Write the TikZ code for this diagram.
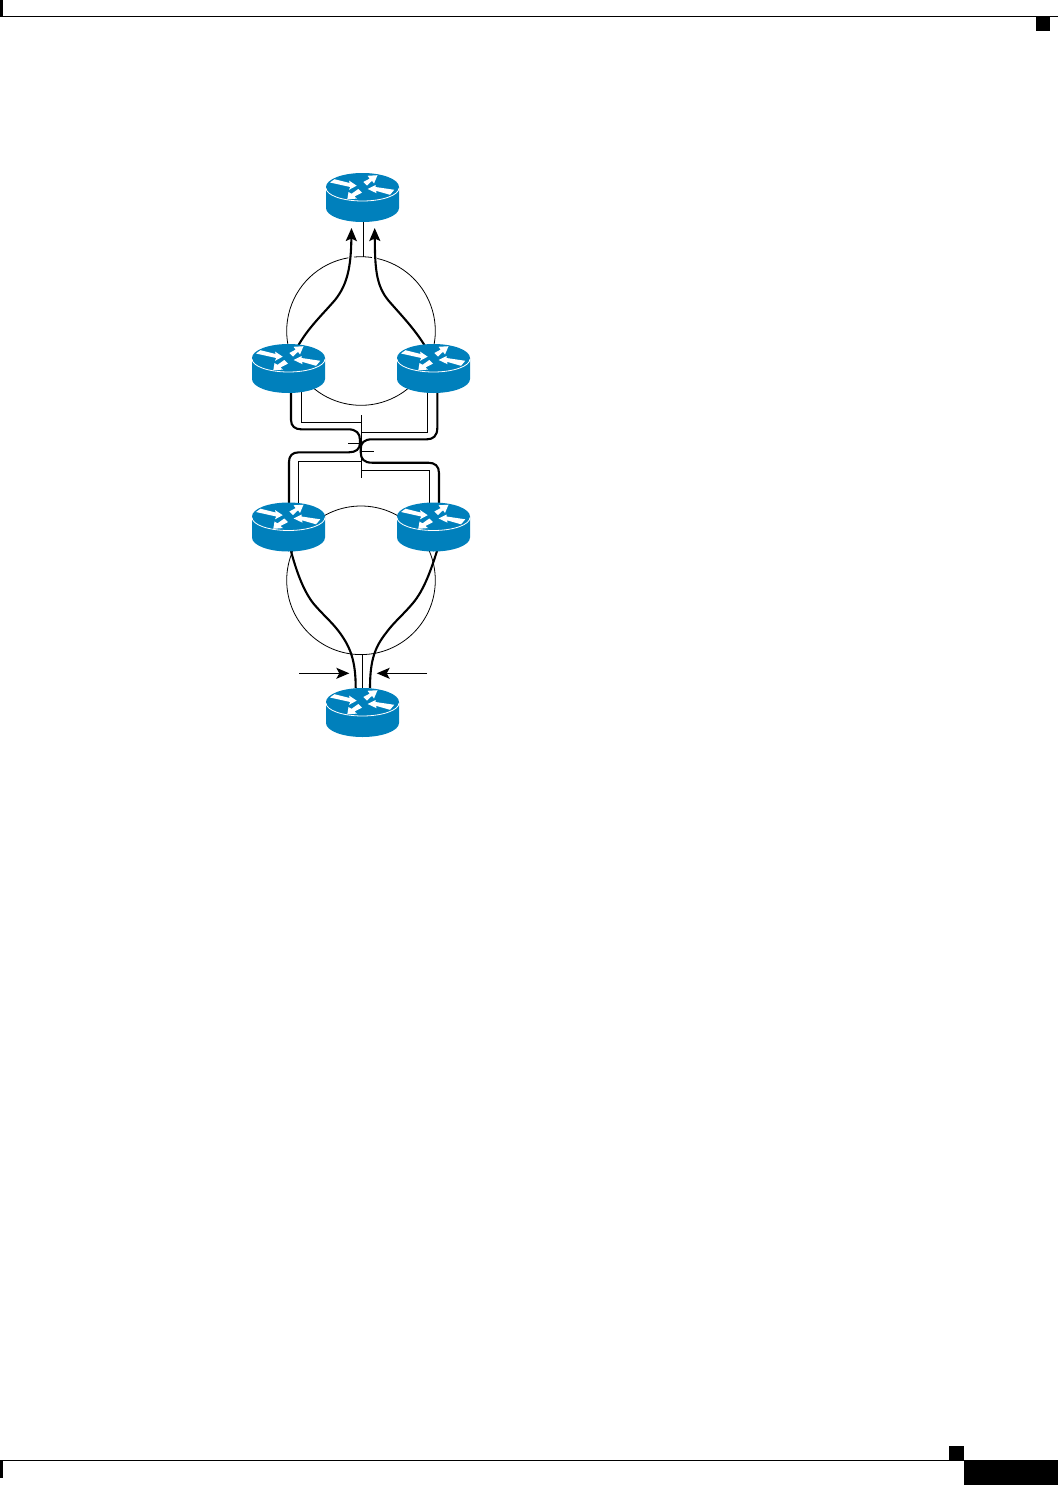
\documentclass[tikz,border=0pt]{standalone}
\usetikzlibrary{arrows.meta}
\definecolor{routerblue}{RGB}{0,128,188}
\tikzset{
  x=1pt,y=-1pt,
  thinline/.style={black,line width=0.8pt},
  thickline/.style={black,line width=2.1pt},
  headline/.style={thickline,-{Stealth[length=13pt,width=11pt,inset=2.5pt]}},
  pointer/.style={black,line width=1pt,-{Stealth[length=13pt,width=11pt,inset=3pt]}},
  routerface/.style={fill=white,draw=none},
  pagemark/.style={fill=black,draw=none},
  pics/router/.style={code={
    \fill[routerblue] (-36.5,14) -- (-36.5,35) arc[start angle=180,end angle=0,x radius=36.5,y radius=14] -- (36.5,14) arc[start angle=0,end angle=-180,x radius=36.5,y radius=14] -- cycle;
    \draw[white,line width=0.8pt] (-36.5,15) arc[start angle=180,end angle=0,x radius=36.5,y radius=13];
    \fill[routerface] (-32.5,9.5) -- (-28,6.2) -- (-12.8,10) -- (-13.5,7.5) -- (-5.8,12.7) -- (-13.5,16.8) -- (-12.3,14) -- cycle;
    \fill[routerface] (15,2.2) -- (5,2.8) -- (7.2,5.6) -- (0.8,9) -- (4.5,12.5) -- (9.5,7.8) -- (11.5,10.5) -- cycle;
    \fill[routerface] (-15.2,26.3) -- (-14,19) -- (-11,20.8) -- (-4.2,16) -- (-0.5,19.6) -- (-8,23.5) -- (-5.5,25.6) -- cycle;
    \fill[routerface] (5.2,16) -- (13,12) -- (13,14) -- (31.8,16.8) -- (27.5,21.8) -- (13.5,17.8) -- (14,20.2) -- cycle;
  }}
}
\begin{document}
\begin{tikzpicture}
\useasboundingbox (0,0) rectangle (1058,1485);
% page furniture
\fill[pagemark] (0,16) rectangle (1058,17.5);
\fill[pagemark] (0,0) rectangle (2.5,17);
\fill[pagemark] (1036,17) rectangle (1050,31);
\fill[pagemark] (0,1460) rectangle (1058,1461);
\fill[pagemark] (0,1460) rectangle (3,1478);
\fill[pagemark] (949,1446) rectangle (964,1460);
\fill[pagemark] (964,1460) rectangle (1058,1485);
% anchors
\coordinate (topS) at (363.3,222);
\coordinate (topT) at (363.3,257);
\coordinate (botN) at (362.3,689);
\coordinate (botT) at (362.3,654);
\coordinate (midV1) at (361.3,415);
\coordinate (midV2) at (361.3,478);
\coordinate (ringA) at (361,331);
\coordinate (ringB) at (361,580.3);
% thin rings and T bars
\draw[thinline] (ringA) ++(-95.4:74.3) arc[start angle=-95.4,end angle=-81.5,radius=74.3];
\draw[thinline] (ringA) ++(-77.3:74.3) arc[start angle=-77.3,end angle=260.2,radius=74.3];
\draw[thinline] (ringB) circle[radius=74.3];
\draw[thinline] (topS) -- (topT);
\draw[thinline] (botT) -- (botN);
\draw[thinline] (midV1) -- (midV2);
\draw[thinline] (301.7,390) -- (301.7,422.3) -- (361.3,422.3);
\draw[thinline] (427.7,390) -- (427.7,432.3) -- (361.3,432.3);
\draw[thinline] (298.3,504) -- (298.3,461) -- (361.3,461);
\draw[thinline] (429.7,504) -- (429.7,470.3) -- (361.3,470.3);
\draw[thinline] (348.3,443.3) -- (361.3,443.3);
\draw[thinline] (361.3,451) -- (374,451);
% thick traces, middle
\draw[thickline] (291,390) -- (291,420) .. controls (291,426) and (295,429.3) .. (301,429.3) -- (348,429.3) .. controls (356,429.3) and (360,433) .. (360,440) -- (360,443) .. controls (360,449) and (356,452.3) .. (349,452.3) -- (299,452.3) .. controls (292,452.3) and (289,456) .. (289,462) -- (289,504);
\draw[thickline] (437.3,390) -- (437.3,428) .. controls (437.3,436) and (433,439.3) .. (427,439.3) -- (372,439.3) .. controls (364,439.3) and (360.7,443) .. (360.7,449) -- (360.7,452) .. controls (360.7,459) and (364,462.7) .. (372,462.7) -- (428,462.7) .. controls (435,462.7) and (439,466) .. (439,473) -- (439,504);
% thick traces, upper (arrows to top router)
\draw[headline] (298,346) .. controls (308,328) and (323,314) .. (335,300) .. controls (347,285) and (351,268) .. (351.5,228);
\draw[headline] (425,346) .. controls (414,328) and (400,314) .. (388,300) .. controls (376,285) and (375,268) .. (374.7,228);
% thick traces, lower
\draw[thickline] (290.7,550) .. controls (296,570) and (303,590) .. (313,603) .. controls (323,615) and (332,622) .. (340,633) .. controls (350,647) and (355.7,660) .. (355.7,688);
\draw[thickline] (437.3,550) .. controls (431,570) and (424,590) .. (413,603) .. controls (403,615) and (394,622) .. (386,633) .. controls (375,647) and (370,660) .. (370,688);
% pointers
\coordinate (pL) at (299,673.3);
\coordinate (pLt) at (349.3,673.3);
\coordinate (pR) at (427,673.3);
\coordinate (pRt) at (376.7,673.3);
\draw[pointer] (pL) -- (pLt);
\draw[pointer] (pR) -- (pRt);
% routers
\pic at (362.5,173) {router};
\pic at (288.5,344) {router};
\pic at (433.5,344) {router};
\pic at (288.5,502.5) {router};
\pic at (433.5,502.5) {router};
\pic at (362.5,688) {router};
\end{tikzpicture}
\end{document}
